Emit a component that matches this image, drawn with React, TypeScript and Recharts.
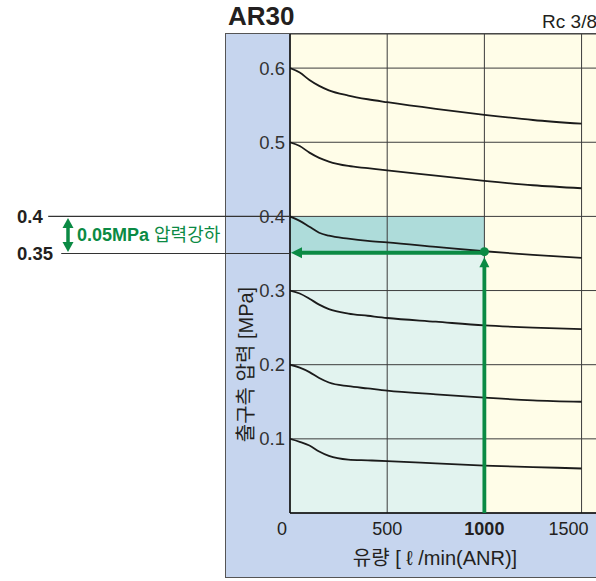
import React from "react";
import {
  ComposedChart,
  Line,
  XAxis,
  YAxis,
  CartesianGrid,
  ReferenceArea,
  ReferenceLine,
  ReferenceDot,
} from "recharts";

// flow [l/min(ANR)] vs outlet pressure [MPa], one curve per set pressure
const flow = [0, 50, 100, 150, 200, 300, 400, 500, 750, 1000, 1250, 1500];
const p06 = [0.6, 0.594, 0.584, 0.576, 0.57, 0.563, 0.558, 0.554, 0.545, 0.537, 0.53, 0.525];
const p05 = [0.5, 0.495, 0.486, 0.479, 0.474, 0.468, 0.465, 0.462, 0.455, 0.448, 0.442, 0.438];
const p04 = [0.4, 0.394, 0.386, 0.378, 0.374, 0.37, 0.367, 0.365, 0.359, 0.353, 0.348, 0.344];
const p03 = [0.3, 0.296, 0.289, 0.281, 0.275, 0.269, 0.266, 0.263, 0.258, 0.253, 0.25, 0.248];
const p02 = [0.2, 0.196, 0.19, 0.182, 0.176, 0.171, 0.168, 0.165, 0.16, 0.1555, 0.152, 0.15];
const p01 = [0.1, 0.096, 0.091, 0.083, 0.077, 0.072, 0.071, 0.07, 0.067, 0.064, 0.062, 0.06];

const xTicks = [0, 500, 1000, 1500];
const yTicks = [0.1, 0.2, 0.3, 0.4, 0.5, 0.6];
const seriesKeys = ["p06", "p05", "p04", "p03", "p02", "p01"];

// example point: 1000 l/min at 0.4 MPa set -> 0.35 MPa
const opFlow = 1000;
const setP = 0.4;
const outP = 0.35;

const data = flow.map((f, i) => ({
  flow: f,
  p06: p06[i],
  p05: p05[i],
  p04: p04[i],
  p03: p03[i],
  p02: p02[i],
  p01: p01[i],
}));

const FONT = '"Liberation Sans", Arial, "Noto Sans CJK KR", sans-serif';
const GREEN = "#0b8a44";
const INK = "#231f20";

function XTick(props: any) {
  const { x, y, payload } = props;
  const v = payload.value;
  let dx = 0;
  if (v === 0) dx = -8;
  if (v === 1500) dx = -13;
  return (
    <text
      x={x + dx}
      y={y}
      dy="0.71em"
      textAnchor="middle"
      fontSize={18}
      fontFamily={FONT}
      fontWeight={v === opFlow ? "bold" : "normal"}
      fill={INK}
    >
      {v}
    </text>
  );
}

function YLabel(props: any) {
  const vb = props.viewBox;
  const x = vb.x + 20;
  const y = vb.y + vb.height * 0.69;
  return (
    <text
      x={x}
      y={y}
      transform={`rotate(-90 ${x} ${y})`}
      textAnchor="middle"
      dominantBaseline="central"
      fontSize={20}
      fontFamily={FONT}
      fill={INK}
    >
      출구측 압력 [MPa]
    </text>
  );
}

function XLabel(props: any) {
  const vb = props.viewBox;
  return (
    <text
      x={vb.x + 145}
      y={vb.y + 52}
      textAnchor="middle"
      fontSize={20}
      fontFamily={FONT}
      fill={INK}
    >
      유량 [ ℓ /min(ANR)]
    </text>
  );
}

const leftArrow = (p: any) => (
  <polygon
    points={`${p.cx + 1},${p.cy} ${p.cx + 12},${p.cy - 5.5} ${p.cx + 12},${p.cy + 5.5}`}
    fill={GREEN}
  />
);

const upArrow = (p: any) => (
  <polygon
    points={`${p.cx},${p.cy} ${p.cx - 5},${p.cy + 10} ${p.cx + 5},${p.cy + 10}`}
    fill={GREEN}
  />
);

export default function App() {
  return (
    <div
      style={{
        position: "absolute",
        left: 0,
        top: 0,
        width: 596,
        height: 581,
        overflow: "hidden",
        background: "#fff",
        fontFamily: FONT,
      }}
    >
      {/* blue panel behind the chart */}
      <div
        style={{
          position: "absolute",
          left: 225,
          top: 33,
          width: 400,
          height: 545,
          background: "#c6d5ee",
          borderTop: "1.5px solid #555",
          borderLeft: "1.5px solid #555",
          borderBottom: "1.5px solid #555",
          boxSizing: "border-box",
        }}
      />
      <div style={{ position: "absolute", left: 0, top: 0 }}>
        <ComposedChart
          width={601}
          height={581}
          data={data}
          margin={{ top: 34, right: 0, bottom: 0, left: 226 }}
        >
          <ReferenceArea
            x1={0}
            x2={1600}
            y1={0}
            y2={0.646}
            fill="#fffde8"
            fillOpacity={1}
            stroke="none"
            zIndex={-300}
          />
          <ReferenceArea
            x1={0}
            x2={opFlow}
            y1={0}
            y2={setP}
            fill="#e2f3ef"
            fillOpacity={1}
            stroke="none"
            zIndex={-250}
          />
          <ReferenceArea
            x1={0}
            x2={opFlow}
            y1={outP}
            y2={setP}
            fill="#aedcda"
            fillOpacity={1}
            stroke="none"
            zIndex={-200}
          />
          <CartesianGrid stroke="#3c3c3c" strokeWidth={1} fill="none" />
          <XAxis
            type="number"
            dataKey="flow"
            domain={[0, 1600]}
            ticks={xTicks}
            allowDataOverflow
            height={68}
            axisLine={{ stroke: "#111", strokeWidth: 1.5 }}
            tickLine={false}
            tickSize={0}
            tickMargin={9}
            tick={<XTick />}
            label={<XLabel />}
          />
          <YAxis
            type="number"
            domain={[0, 0.646]}
            ticks={yTicks}
            allowDataOverflow
            width={64}
            axisLine={{ stroke: "#111", strokeWidth: 1.5 }}
            tickLine={false}
            tickSize={0}
            tickMargin={5}
            tick={{ fontSize: 18.5, fill: "#333", fontFamily: FONT }}
            label={<YLabel />}
          />
          {seriesKeys.map((k) => (
            <Line
              key={k}
              type="monotone"
              dataKey={k}
              stroke="#1b1b1b"
              strokeWidth={1.8}
              dot={false}
              activeDot={false}
              isAnimationActive={false}
            />
          ))}
          {/* leader lines to the outside labels */}
          <ReferenceLine
            segment={[
              { x: -1244, y: setP },
              { x: 0, y: setP },
            ]}
            stroke="#333"
            strokeWidth={1.2}
            ifOverflow="visible"
            zIndex={700}
          />
          <ReferenceLine
            segment={[
              { x: -1177, y: outP },
              { x: 0, y: outP },
            ]}
            stroke="#333"
            strokeWidth={1.2}
            ifOverflow="visible"
            zIndex={700}
          />
          <ReferenceLine
            segment={[
              { x: opFlow, y: 0 },
              { x: opFlow, y: 0.334 },
            ]}
            stroke={GREEN}
            strokeWidth={3.8}
            ifOverflow="visible"
            zIndex={800}
          />
          <ReferenceLine
            segment={[
              { x: 50, y: 0.351 },
              { x: opFlow, y: 0.351 },
            ]}
            stroke={GREEN}
            strokeWidth={3.8}
            ifOverflow="visible"
            zIndex={800}
          />
          <ReferenceDot x={0} y={0.351} shape={leftArrow} ifOverflow="visible" zIndex={800} />
          <ReferenceDot x={opFlow} y={0.345} shape={upArrow} ifOverflow="visible" zIndex={800} />
          <ReferenceDot
            x={opFlow}
            y={0.3525}
            r={4.5}
            fill={GREEN}
            stroke="none"
            ifOverflow="visible"
            zIndex={900}
          />
        </ComposedChart>
      </div>
      {/* title and left annotation */}
      <svg
        width={596}
        height={581}
        style={{ position: "absolute", left: 0, top: 0, pointerEvents: "none" }}
      >
        <text x={228} y={25} fontSize={26} fontWeight="bold" fontFamily={FONT} fill={INK}>
          AR30
        </text>
        <text x={597} y={28} textAnchor="end" fontSize={19} fontFamily={FONT} fill={INK}>
          Rc 3/8
        </text>
        <text x={17} y={223} fontSize={18.5} fontWeight="bold" fontFamily={FONT} fill={INK}>
          0.4
        </text>
        <text x={17} y={260} fontSize={18.5} fontWeight="bold" fontFamily={FONT} fill={INK}>
          0.35
        </text>
        <line x1={68} y1={226} x2={68} y2={244} stroke={GREEN} strokeWidth={3.5} />
        <polygon points="68,218 62.5,228 73.5,228" fill={GREEN} />
        <polygon points="68,252 62.5,242 73.5,242" fill={GREEN} />
        <text x={77} y={241} fontSize={18} fontFamily={FONT} fill={GREEN}>
          <tspan fontWeight="bold">0.05MPa</tspan>
          <tspan> 압력강하</tspan>
        </text>
      </svg>
    </div>
  );
}
